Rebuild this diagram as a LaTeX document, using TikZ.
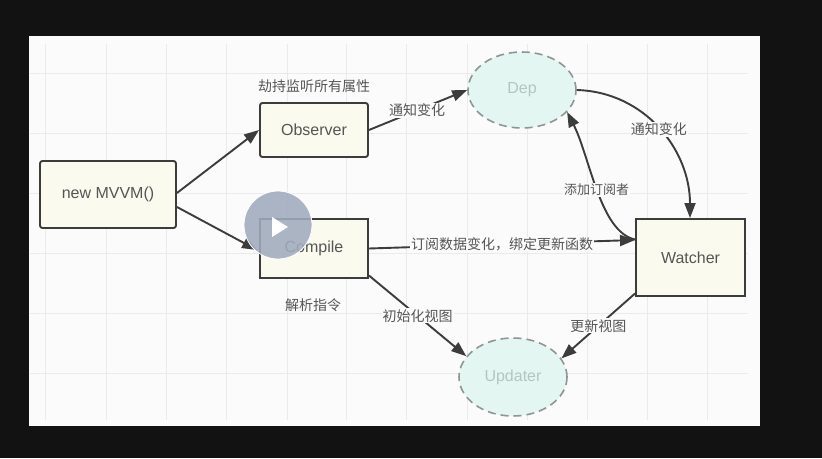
\documentclass[tikz,border=0pt]{standalone}
\usepackage{fontspec}
\setmainfont{Liberation Sans}
\newfontfamily\cjk{Noto Sans CJK SC}
\usetikzlibrary{shapes.geometric,arrows.meta}
\definecolor{bgdark}{HTML}{121212}
\definecolor{paper}{HTML}{FBFBFC}
\definecolor{gridc}{HTML}{EBEBEB}
\definecolor{boxfill}{HTML}{FAFAEE}
\definecolor{edge}{HTML}{3C3C3C}
\definecolor{mint}{HTML}{E4F6F2}
\definecolor{dashc}{HTML}{8E9694}
\definecolor{soft}{HTML}{B4C6C2}
\definecolor{ink}{HTML}{555555}
\definecolor{playc}{HTML}{A0ABBE}
\tikzset{
  x=1pt,y=-1pt,
  boxbase/.style={draw=edge,line width=1.9pt,fill=boxfill,text=ink,font=\fontsize{16}{18}\selectfont,inner sep=0pt,anchor=center},
  roundbox/.style={boxbase,rounded corners=2.5pt},
  oval/.style={ellipse,draw=dashc,line width=1.6pt,dash pattern=on 8pt off 5pt,fill=mint,text=soft,font=\fontsize{16}{18}\selectfont,inner sep=0pt},
  conn/.style={draw=edge,line width=1.9pt,-{Triangle[length=15pt,width=11pt]}},
  lab/.style={fill=paper,text=ink,font=\cjk\fontsize{14}{16}\selectfont,inner sep=1pt},
  smalllab/.style={lab,font=\cjk\fontsize{13}{15}\selectfont},
  captxt/.style={text=ink,font=\cjk\fontsize{14}{16}\selectfont,inner sep=0pt}
}
\begin{document}
\begin{tikzpicture}
\useasboundingbox (0,0) rectangle (822,458);
\fill[bgdark] (0,0) rectangle (822,458);
\fill[paper] (29,36) rectangle (760,426);
\foreach \gx in {45,106,166,226,287,346,406,467,527,587,647,707}
  \draw[gridc,line width=.7pt] (\gx,44) -- (\gx,420);
\foreach \gy in {73,133,193,253,313,373}
  \draw[gridc,line width=.7pt] (30,\gy) -- (748,\gy);

\node[roundbox,minimum width=136pt,minimum height=67pt] (mvvm) at (108,194.5) {new MVVM()};
\node[roundbox,minimum width=108pt,minimum height=54pt] (observer) at (314,130) {Observer};
\node[boxbase,minimum width=108pt,minimum height=59pt] (compile) at (314,248.5) {Compile};
\node[boxbase,minimum width=109pt,minimum height=77pt] (watcher) at (690.5,257.5) {Watcher};
\node[oval,minimum width=108pt,minimum height=76pt] (dep) at (522,90) {Dep};
\node[oval,minimum width=108pt,minimum height=78pt] (updater) at (513,377) {Updater};

\node[captxt] (capobs) at (314,86) {劫持监听所有属性};
\node[captxt] (capcomp) at (313,305) {解析指令};

\draw[conn] ([yshift=1.5pt]mvvm.east) -- (observer.west);
\draw[conn] ([yshift=-12.5pt]mvvm.east) -- ([xshift=-2pt,yshift=-1.5pt]compile.west);
\draw[conn] (observer.east) -- node[lab,pos=.49] (l1) {通知变化} (dep.west);
\draw[conn] (dep.east) .. controls (645,92) and (690,150) .. node[lab,pos=.5] (l2) {通知变化} ([xshift=-.5pt]watcher.north);
\draw[conn] ([yshift=18pt]watcher.west) .. controls (600,232) and (590,157) .. node[smalllab,pos=.5] (l3) {添加订阅者} (dep.-26);
\draw[conn] (compile.east) -- node[lab,pos=.5] (l4) {订阅数据变化，绑定更新函数} ([yshift=17.5pt]watcher.west);
\draw[conn] ([yshift=-27pt]compile.east) -- node[lab,pos=.5] (l5) {初始化视图} (updater.156);
\draw[conn] ([yshift=-36pt]watcher.west) -- node[lab,pos=.5] (l6) {更新视图} (updater.21);

\fill[playc,fill opacity=.88,draw=white,line width=.8pt] (278,225) circle (34);
\fill[white] (272,217) -- (272,237) -- (288,227) -- cycle;
\end{tikzpicture}
\end{document}
